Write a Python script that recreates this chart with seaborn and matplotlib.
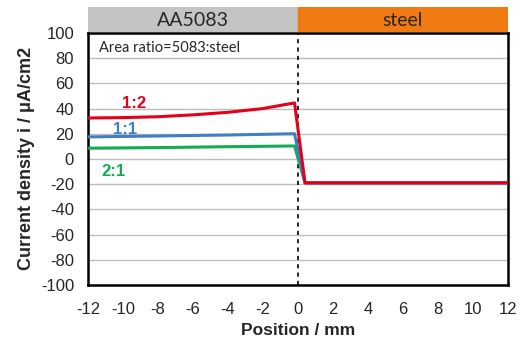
import numpy as np
import pandas as pd
import matplotlib
matplotlib.use("Agg")
import matplotlib.pyplot as plt
import seaborn as sns

# data
pos_12 = [-12, -10, -8, -6, -4, -2, -0.2, 0.4, 2, 4, 6, 8, 10, 12]
cur_12 = [32.5, 32.8, 33.5, 35, 37, 40, 44.5, -19, -19, -19, -19, -19, -19, -19]
pos_11 = [-12, -8, -4, -0.2, 0.4, 12]
cur_11 = [17.5, 18.2, 19, 20, -19, -19]
pos_21 = [-12, -8, -4, -0.2, 0.4, 12]
cur_21 = [8.5, 9, 9.7, 10.3, -19, -19]
xticks = list(range(-12, 13, 2))
yticks = list(range(-100, 101, 20))
series_names = ["2:1", "1:1", "1:2"]
colors = {"1:2": "#e3001b", "1:1": "#3f7fc4", "2:1": "#12ad50"}

df = pd.concat([
    pd.DataFrame({"pos": pos_21, "cur": cur_21, "ratio": "2:1"}),
    pd.DataFrame({"pos": pos_11, "cur": cur_11, "ratio": "1:1"}),
    pd.DataFrame({"pos": pos_12, "cur": cur_12, "ratio": "1:2"}),
])

sns.set_style("white")
plt.rcParams['font.family'] = ['Liberation Sans', 'DejaVu Sans']
plt.rcParams['axes.unicode_minus'] = False

fig = plt.figure(figsize=(5.27, 3.47), dpi=100)
ax = fig.add_axes([0.167, 0.179, 0.797, 0.726])

ax.set_axisbelow(True)
ax.yaxis.grid(True, color="#bdbdbd", linewidth=1.0)
ax.axvline(0, color="black", linestyle=(0, (2.5, 2.5)), linewidth=1.2, zorder=1)

sns.lineplot(data=df, x="pos", y="cur", hue="ratio", hue_order=series_names,
             palette=colors, linewidth=2.2, legend=False, ax=ax, sort=False,
             estimator=None, zorder=3)

ax.set_xlim(-12, 12)
ax.set_ylim(-100, 100)
ax.set_xticks(xticks)
ax.set_yticks(yticks)
ax.tick_params(axis="y", labelsize=12, length=0, pad=10)
ax.tick_params(axis="x", labelsize=12, length=0, pad=12)
for s in ax.spines.values():
    s.set_color("black")
    s.set_linewidth(1.8)
ax.set_xlabel("Position / mm", fontsize=12.5, fontweight="bold", labelpad=5)
ax.set_ylabel("Current density i / μA/cm2", fontsize=13, fontweight="bold", labelpad=4)

ax.text(-11.4, 88, "Area ratio=5083:steel", fontsize=10.5, family=["Lato", "DejaVu Sans"],
        va="center", ha="left")
ax.text(-10.05, 44, "1:2", color=colors["1:2"], fontsize=12, fontweight="bold", va="center")
ax.text(-10.6, 23.5, "1:1", color=colors["1:1"], fontsize=12, fontweight="bold", va="center")
ax.text(-11.25, -10, "2:1", color=colors["2:1"], fontsize=12, fontweight="bold", va="center")

# header bars
hax = fig.add_axes([0.167, 0.908, 0.797, 0.072])
hax.set_xlim(-12, 12)
hax.set_ylim(0, 1)
hax.axvspan(-12, 0, color="#c4c4c4")
hax.axvspan(0, 12, color="#f07b12")
hax.text(-6, 0.45, "AA5083", ha="center", va="center", fontsize=14, family=["Lato", "DejaVu Sans"])
hax.text(6, 0.45, "steel", ha="center", va="center", fontsize=14, family=["Lato", "DejaVu Sans"])
hax.set_xticks([])
hax.set_yticks([])
for s in hax.spines.values():
    s.set_visible(False)

fig.savefig("out.png", dpi=100)
